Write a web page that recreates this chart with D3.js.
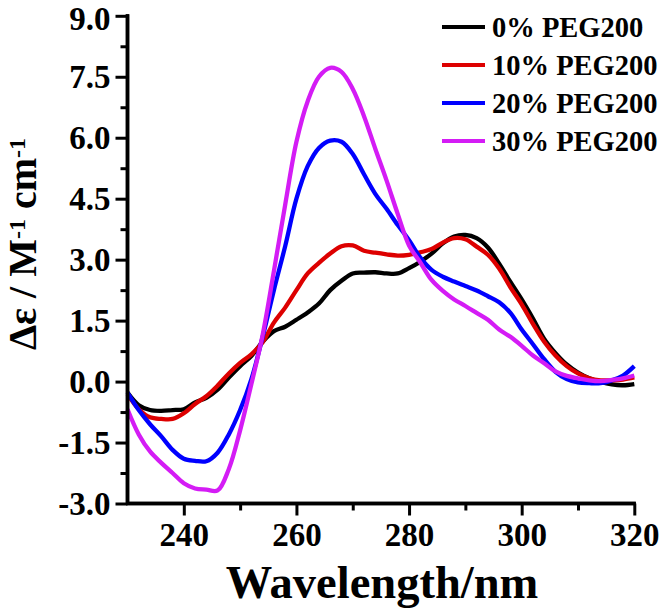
<!DOCTYPE html>
<html>
<head>
<meta charset="utf-8">
<script src="https://cdn.jsdelivr.net/npm/d3@7"></script>
<style>
  html, body { margin: 0; padding: 0; background: #fff; }
  svg { display: block; }
  text { font-family: "Liberation Serif", "Times New Roman", serif; font-weight: bold; fill: #000; }
</style>
</head>
<body>
<svg id="chart" width="664" height="614"></svg>
<script>
const wavelengths = [230,232,234,236,238,240,242,244,246,248,250,252,254,256,258,260,262,264,266,268,270,272,274,276,278,280,282,284,286,288,290,292,294,296,298,300,302,304,306,308,310,312,314,316,318,320];

const peg0 = [-0.27,-0.58,-0.70,-0.72,-0.70,-0.68,-0.51,-0.40,-0.20,0.10,0.38,0.63,0.98,1.24,1.35,1.52,1.70,1.92,2.25,2.48,2.66,2.68,2.69,2.66,2.66,2.79,2.95,3.15,3.40,3.57,3.61,3.53,3.30,2.90,2.45,2.02,1.55,1.05,0.70,0.42,0.22,0.08,-0.01,-0.07,-0.09,-0.06];
const peg10 = [-0.31,-0.68,-0.88,-0.92,-0.92,-0.78,-0.55,-0.36,-0.10,0.20,0.46,0.67,0.97,1.45,1.82,2.25,2.66,2.92,3.15,3.33,3.35,3.22,3.17,3.13,3.10,3.12,3.18,3.26,3.42,3.53,3.50,3.32,3.12,2.78,2.32,1.90,1.42,0.98,0.64,0.38,0.20,0.08,0.03,0.03,0.05,0.10];
const peg20 = [-0.27,-0.70,-1.05,-1.35,-1.68,-1.90,-1.95,-1.96,-1.75,-1.30,-0.70,0.06,1.10,2.25,3.33,4.50,5.30,5.75,5.93,5.90,5.60,5.10,4.62,4.25,3.85,3.48,3.05,2.75,2.58,2.46,2.35,2.24,2.10,1.95,1.69,1.28,0.92,0.55,0.24,0.06,-0.02,-0.04,-0.04,0.03,0.15,0.38];
const peg30 = [-0.68,-1.30,-1.72,-2.00,-2.25,-2.50,-2.63,-2.66,-2.68,-2.15,-1.20,-0.06,1.15,2.72,4.35,5.90,6.90,7.50,7.72,7.62,7.20,6.53,5.73,4.95,4.12,3.35,2.93,2.50,2.23,2.02,1.86,1.69,1.52,1.28,1.10,0.88,0.64,0.45,0.25,0.14,0.08,0.03,0.01,0.04,0.08,0.15];

const seriesNames = ["0% PEG200","10% PEG200","20% PEG200","30% PEG200"];
const seriesColors = ["#000000","#dd0000","#0000ff","#d41cf5"];
const seriesValues = [peg0, peg10, peg20, peg30];

const xTicks = [240,260,280,300,320];
const xMinor = [250,270,290,310];
const yTicks = [-3.0,-1.5,0.0,1.5,3.0,4.5,6.0,7.5,9.0];
const yMinor = [-2.25,-0.75,0.75,2.25,3.75,5.25,6.75,8.25];

const svg = d3.select("#chart");
const mLeft = 127.5, mRight = 634.3, mTop = 15.8, mBottom = 503.5;

const x = d3.scaleLinear().domain([230,320]).range([mLeft,mRight]);
const y = d3.scaleLinear().domain([-3,9]).range([mBottom,mTop]);

const fmt = v => d3.format(".1f")(v).replace("\u2212","-");

// curves
const line = d3.line().x(d => x(d[0])).y(d => y(d[1])).curve(d3.curveCatmullRom.alpha(0.5));
seriesValues.forEach((vals, i) => {
  svg.append("path")
    .datum(wavelengths.map((w, j) => [w, vals[j]]))
    .attr("fill","none")
    .attr("stroke", seriesColors[i])
    .attr("stroke-width", 4.3)
    .attr("stroke-linejoin","round")
    .attr("d", line);
});

// axes
const xAxis = svg.append("g").attr("transform",`translate(0,${mBottom})`)
  .call(d3.axisBottom(x).tickValues(xTicks).tickSize(12).tickPadding(7).tickFormat(d3.format("d")));
const xMin = svg.append("g").attr("transform",`translate(0,${mBottom})`)
  .call(d3.axisBottom(x).tickValues(xMinor).tickSize(7).tickFormat(""));
const yAxis = svg.append("g").attr("transform",`translate(${mLeft},0)`)
  .call(d3.axisLeft(y).tickValues(yTicks).tickSize(12).tickPadding(5).tickFormat(fmt));
const yMin = svg.append("g").attr("transform",`translate(${mLeft},0)`)
  .call(d3.axisLeft(y).tickValues(yMinor).tickSize(7).tickFormat(""));

[xAxis,xMin].forEach(g => {
  g.select(".domain").attr("stroke","#000").attr("stroke-width",3.5)
    .attr("d", `M${mLeft - 1.5},0H${mRight + 1.5}`);
});
[yAxis,yMin].forEach(g => {
  g.select(".domain").attr("stroke","#000").attr("stroke-width",3.5)
    .attr("d", `M0,${mBottom + 1.5}V${mTop - 1.5}`);
});
[xAxis,xMin,yAxis,yMin].forEach(g => {
  g.selectAll(".tick line").attr("stroke","#000").attr("stroke-width",3);
  g.selectAll(".tick text").style("font-size","33px").style("font-family","'Liberation Serif', serif").style("font-weight","bold");
});
// keep the top label inside the canvas
yAxis.selectAll(".tick").filter(d => d === 9).select("text").attr("y", 3);

// axis titles
svg.append("text")
  .attr("x", 382)
  .attr("y", 598)
  .attr("text-anchor","middle")
  .style("font-size","46.5px")
  .text("Wavelength/nm");

const yt = svg.append("text")
  .attr("transform","translate(36,244) rotate(-90)")
  .attr("text-anchor","middle")
  .style("font-size","40px");
yt.append("tspan").text("\u0394\u03b5 / M");
yt.append("tspan").attr("dy",-11).style("font-size","24px").text("-1");
yt.append("tspan").attr("dy",11).text(" cm");
yt.append("tspan").attr("dy",-11).style("font-size","24px").text("-1");

// legend
const legend = svg.append("g");
const legY0 = 27, legDy = 38;
seriesNames.forEach((name, i) => {
  const yy = legY0 + i*legDy;
  legend.append("line")
    .attr("x1",442).attr("x2",485).attr("y1",yy).attr("y2",yy)
    .attr("stroke",seriesColors[i]).attr("stroke-width",4);
  legend.append("text")
    .attr("x", 492).attr("y", yy + 10)
    .style("font-size","28.5px")
    .text(name);
});
</script>
</body>
</html>
